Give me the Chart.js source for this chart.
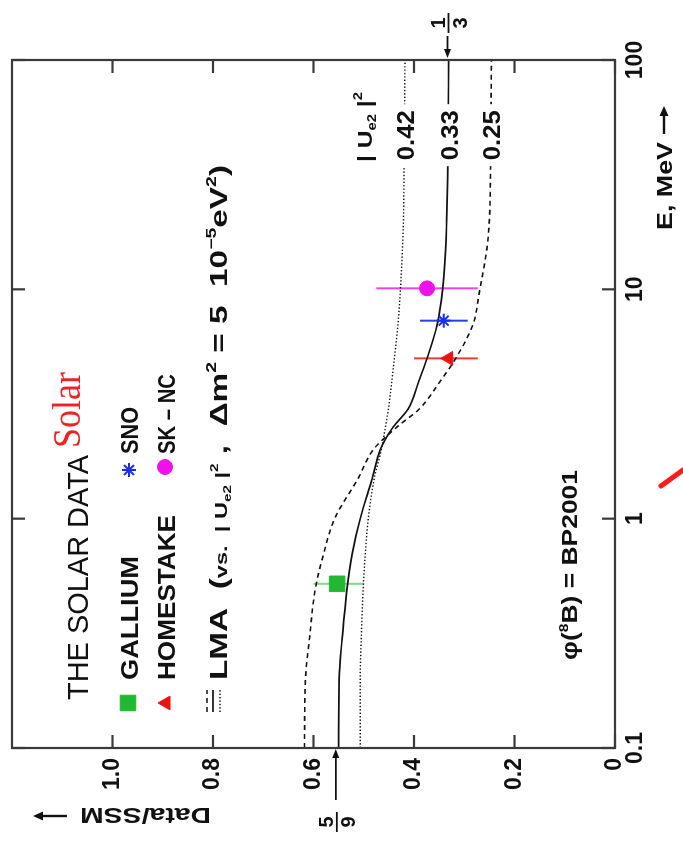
<!DOCTYPE html>
<html>
<head>
<meta charset="utf-8">
<title>The solar data</title>
<script src="https://cdn.jsdelivr.net/npm/chart.js@4.4.1/dist/chart.umd.min.js"></script>
<style>
  html, body { margin: 0; padding: 0; background: #fff; overflow: hidden; }
  /* the figure lies on its side: draw it upright, then turn the box */
  #wrap { position: absolute; left: 0; top: 0; width: 844px; height: 683px;
          transform-origin: 0 0; transform: translate(0, 844px) rotate(-90deg); }
  canvas { display: block; }
</style>
</head>
<body>
<div id="wrap"><canvas id="solarChart" width="844" height="683"></canvas></div>
<script>
/* global Chart */

const energies = [0.1, 0.2, 0.3, 0.5, 0.7, 1, 1.5, 2, 2.5, 3, 4, 5, 7, 10, 15, 20, 30, 50, 100];
const lma025 = [0.618, 0.616, 0.608, 0.596, 0.580, 0.558, 0.511, 0.481, 0.435, 0.390, 0.347, 0.317, 0.283, 0.269, 0.255, 0.250, 0.248, 0.247, 0.246];
const lma033 = [0.550, 0.549, 0.543, 0.533, 0.523, 0.507, 0.483, 0.467, 0.442, 0.412, 0.390, 0.374, 0.354, 0.343, 0.337, 0.335, 0.333, 0.332, 0.331];
const lma042 = [0.507, 0.507, 0.505, 0.501, 0.497, 0.491, 0.479, 0.465, 0.457, 0.451, 0.444, 0.439, 0.432, 0.427, 0.423, 0.421, 0.420, 0.419, 0.418];
const curveLabels = ['0.25', '0.33', '0.42'];
const curveLabelE = 47;

// experiments
const expNames = ['GALLIUM', 'HOMESTAKE', 'SNO', 'SK – NC'];
const expEnergy = [0.52, 5.0, 7.3, 10.1];
const expValue = [0.553, 0.331, 0.341, 0.374];
const expLow = [0.50, 0.273, 0.293, 0.273];
const expHigh = [0.60, 0.400, 0.388, 0.475];

// axes
const xTickValues = [0.1, 1, 10, 100];
const xTickLabels = ['0.1', '1', '10', '100'];
const yTickValues = [0, 0.2, 0.4, 0.6, 0.8, 1.0];
const yTickLabels = ['0', '0.2', '0.4', '0.6', '0.8', '1.0'];
const limitValues = [5 / 9, 1 / 3];

const FONT = '"Liberation Sans", Arial, "DejaVu Sans", sans-serif';
const B = s => 'bold ' + s + 'px ' + FONT;
const R = s => s + 'px ' + FONT;

const expStyle = [
    { shape: 'rect', color: '#22b833', bar: '#7ddc7d', r: 11 },
    { shape: 'triangle', color: '#ee1111', bar: '#ef3a3a', r: 8 },
    { shape: 'star', color: '#1a2ee8', bar: '#2a3ee8', r: 7 },
    { shape: 'circle', color: '#ee11ee', bar: '#ef40ef', r: 7.5 }
];
const curveStyle = [
    { dash: [5, 4], width: 1.6 },
    { dash: [], width: 1.7 },
    { dash: [1.4, 2], width: 1.4 }
];

function seg(ctx, x1, y1, x2, y2) {
    ctx.beginPath();
    ctx.moveTo(x1, y1);
    ctx.lineTo(x2, y2);
    ctx.stroke();
}

// straight arrow from (x1,y1) with the head at (x2,y2)
function arrow(ctx, x1, y1, x2, y2, head, half) {
    const len = Math.hypot(x2 - x1, y2 - y1);
    const ux = (x2 - x1) / len, uy = (y2 - y1) / len;
    seg(ctx, x1, y1, x2 - ux * head * 0.7, y2 - uy * head * 0.7);
    ctx.beginPath();
    ctx.moveTo(x2, y2);
    ctx.lineTo(x2 - ux * head - uy * half, y2 - uy * head + ux * half);
    ctx.lineTo(x2 - ux * head + uy * half, y2 - uy * head - ux * half);
    ctx.closePath();
    ctx.fill();
}

// pieces of text with own font / baseline shift, squeezed to a given width
function richText(ctx, segs, x, y, width, color) {
    ctx.save();
    let total = 0;
    segs.forEach(s => { ctx.font = s.f; s.w = ctx.measureText(s.t).width; total += s.w; });
    const k = width ? width / total : 1;
    ctx.translate(x, y);
    ctx.scale(k, 1);
    ctx.fillStyle = color || '#111';
    ctx.textAlign = 'left';
    ctx.textBaseline = 'alphabetic';
    let cx = 0;
    segs.forEach(s => { ctx.font = s.f; ctx.fillText(s.t, cx, s.dy || 0); cx += s.w; });
    ctx.restore();
}

function marker(ctx, i, x, y) {
    const st = expStyle[i];
    ctx.save();
    ctx.fillStyle = st.color;
    ctx.strokeStyle = st.color;
    ctx.lineWidth = st.shape === 'star' ? 2 : 1;
    if (Chart.helpers && Chart.helpers.drawPoint) {
        Chart.helpers.drawPoint(ctx, { pointStyle: st.shape, radius: st.r, rotation: 0, borderWidth: ctx.lineWidth }, x, y);
    }
    ctx.restore();
}

const decoPlugin = {
    id: 'deco',
    beforeDatasetsDraw(chart) {
        const ctx = chart.ctx, x = chart.scales.x, y = chart.scales.y;
        ctx.save();
        ctx.lineWidth = 2;
        expNames.forEach((n, i) => {
            const px = x.getPixelForValue(expEnergy[i]);
            ctx.strokeStyle = expStyle[i].bar;
            seg(ctx, px, y.getPixelForValue(expLow[i]), px, y.getPixelForValue(expHigh[i]));
        });
        ctx.restore();
    },
    afterDatasetsDraw(chart) {
        const ctx = chart.ctx, x = chart.scales.x, y = chart.scales.y;
        const lx = x.getPixelForValue(curveLabelE);
        [lma025, lma033, lma042].forEach((vals, i) => {
            const ly = y.getPixelForValue(vals[vals.length - 1]);
            ctx.fillStyle = '#fff';
            ctx.fillRect(lx - 31, ly - 11, 62, 22);
            richText(ctx, [{ t: curveLabels[i], f: B(24) }], lx - 25, ly + 9, 50);
        });
    },
    afterDraw(chart) {
        const ctx = chart.ctx, x = chart.scales.x, y = chart.scales.y;
        const { left, right, top, bottom } = chart.chartArea;
        ctx.save();

        // frame with inward ticks on every side
        ctx.strokeStyle = '#3a3a3a';
        ctx.lineWidth = 2.2;
        ctx.strokeRect(left, top, right - left, bottom - top);
        yTickValues.forEach(v => {
            const p = y.getPixelForValue(v);
            seg(ctx, left, p, left + 13, p);
            seg(ctx, right, p, right - 13, p);
        });
        xTickValues.forEach(v => {
            const p = x.getPixelForValue(v);
            seg(ctx, p, bottom, p, bottom - 13);
            seg(ctx, p, top, p, top + 13);
        });

        // legend
        richText(ctx, [{ t: 'THE SOLAR DATA', f: R(30) }], 144, 88, 245);
        richText(ctx, [{ t: 'Solar', f: '40px "Liberation Serif", "DejaVu Serif", serif' }], 396, 80, 76, '#ee2222');
        marker(ctx, 0, 141, 128);
        richText(ctx, [{ t: expNames[0], f: B(24) }], 164, 138, 124);
        marker(ctx, 2, 374, 129);
        richText(ctx, [{ t: expNames[2], f: B(24) }], 390, 138, 47);
        marker(ctx, 1, 141, 166);
        richText(ctx, [{ t: expNames[1], f: B(24) }], 164, 175, 165);
        marker(ctx, 3, 377, 165);
        richText(ctx, [{ t: expNames[3], f: B(24) }], 390, 175, 80);

        ctx.strokeStyle = '#111';
        [207, 213, 220].forEach((ly, i) => {
            ctx.setLineDash(curveStyle[i].dash);
            ctx.lineWidth = curveStyle[i].width;
            seg(ctx, 132, ly, 154, ly);
        });
        ctx.setLineDash([]);
        richText(ctx, [
            { t: 'LMA  (', f: B(24) },
            { t: 'vs.  | U', f: B(17) },
            { t: 'e2', f: B(11), dy: 4 },
            { t: ' |', f: B(17) },
            { t: '2', f: B(11), dy: -9 },
            { t: ' ,  Δm', f: B(24) },
            { t: '2', f: B(14), dy: -11 },
            { t: ' = 5  10', f: B(24) },
            { t: '−5', f: B(14), dy: -11 },
            { t: 'eV', f: B(24) },
            { t: '2', f: B(14), dy: -11 },
            { t: ')', f: B(24) }
        ], 164, 227, 515);

        richText(ctx, [{ t: 'φ(', f: B(22) }, { t: '8', f: B(13), dy: -9 }, { t: 'B) = BP2001', f: B(22) }], 184, 577, 190);
        richText(ctx, [{ t: '| U', f: B(20) }, { t: 'e2', f: B(12), dy: 4 }, { t: ' |', f: B(20) }, { t: '2', f: B(12), dy: -10 }], 682, 372, 70);

        // axis titles, arrows drawn as lines
        ctx.fillStyle = '#111';
        ctx.strokeStyle = '#111';
        ctx.lineWidth = 2.4;
        richText(ctx, [{ t: 'E, MeV', f: B(22) }], 614, 672, 88);
        arrow(ctx, 710, 664, 738, 664, 10, 4.5);
        ctx.save();
        ctx.translate(36, 211);
        ctx.rotate(-Math.PI / 2);
        richText(ctx, [{ t: 'Data/SSM', f: B(22) }], 0, 0, 131);
        ctx.restore();
        arrow(ctx, 28, 67, 28, 33, 10, 4.5);

        // 5/9 and 1/3 limits
        ctx.lineWidth = 1.8;
        ctx.font = B(20);
        ctx.textAlign = 'center';
        const p59 = y.getPixelForValue(limitValues[0]);
        ctx.fillText('5', 22, p59 - 3);
        seg(ctx, 12, p59 + 1, 32, p59 + 1);
        ctx.fillText('9', 22, p59 + 19);
        arrow(ctx, 44, p59, 95, p59, 9, 3.5);
        const p13 = y.getPixelForValue(limitValues[1]);
        ctx.fillText('1', 821, p13 - 3);
        seg(ctx, 811, p13 + 1, 831, p13 + 1);
        ctx.fillText('3', 821, p13 + 19);
        arrow(ctx, 808, p13, 786, p13, 9, 3.5);

        // stray red stroke at the edge of the scan
        ctx.strokeStyle = '#ff1a1a';
        ctx.lineWidth = 5;
        ctx.lineCap = 'round';
        seg(ctx, 358, 661, 374, 683);
        ctx.restore();
    }
};

const datasets = [];
expNames.forEach((name, i) => {
    datasets.push({
        label: name,
        data: [{ x: expEnergy[i], y: expValue[i] }],
        pointStyle: expStyle[i].shape,
        pointRadius: expStyle[i].r,
        backgroundColor: expStyle[i].color,
        borderColor: expStyle[i].color,
        borderWidth: expStyle[i].shape === 'star' ? 2 : 1
    });
});
[lma025, lma033, lma042].forEach((vals, i) => {
    datasets.push({
        label: 'LMA ' + curveLabels[i],
        data: energies.map((e, k) => ({ x: e, y: vals[k] })),
        showLine: true,
        pointRadius: 0,
        borderColor: '#111',
        borderWidth: curveStyle[i].width,
        borderDash: curveStyle[i].dash,
        cubicInterpolationMode: 'monotone',
        fill: false
    });
});

const tickFont = { family: FONT, size: 23, weight: 'bold' };

var ctx = document.getElementById('solarChart').getContext('2d');
var solarChart = new Chart(ctx, {
    type: 'scatter',
    data: { datasets: datasets },
    options: {
        responsive: false,
        animation: false,
        devicePixelRatio: 1,
        layout: { padding: { top: 9, right: 60, left: 0, bottom: 0 } },
        plugins: { legend: { display: false }, tooltip: { enabled: false } },
        scales: {
            x: {
                type: 'logarithmic',
                min: 0.1,
                max: 100,
                grid: { display: false, drawTicks: false },
                border: { display: false },
                ticks: {
                    font: tickFont, color: '#111', padding: 7, autoSkip: false, maxRotation: 0,
                    callback: (v, i) => xTickLabels[i]
                },
                afterBuildTicks: s => { s.ticks = xTickValues.map(v => ({ value: v })); },
                afterFit: s => { s.height = 68; s.paddingLeft = 0; s.paddingRight = 0; }
            },
            y: {
                type: 'linear',
                min: 0,
                max: 1.2,
                grid: { display: false, drawTicks: false },
                border: { display: false },
                ticks: {
                    font: tickFont, color: '#111', padding: 10, autoSkip: false,
                    callback: (v, i) => yTickLabels[i]
                },
                afterBuildTicks: s => { s.ticks = yTickValues.map(v => ({ value: v })); },
                afterFit: s => { s.width = 96; s.paddingTop = 0; s.paddingBottom = 0; }
            }
        }
    },
    plugins: [decoPlugin]
});
</script>
</body>
</html>
